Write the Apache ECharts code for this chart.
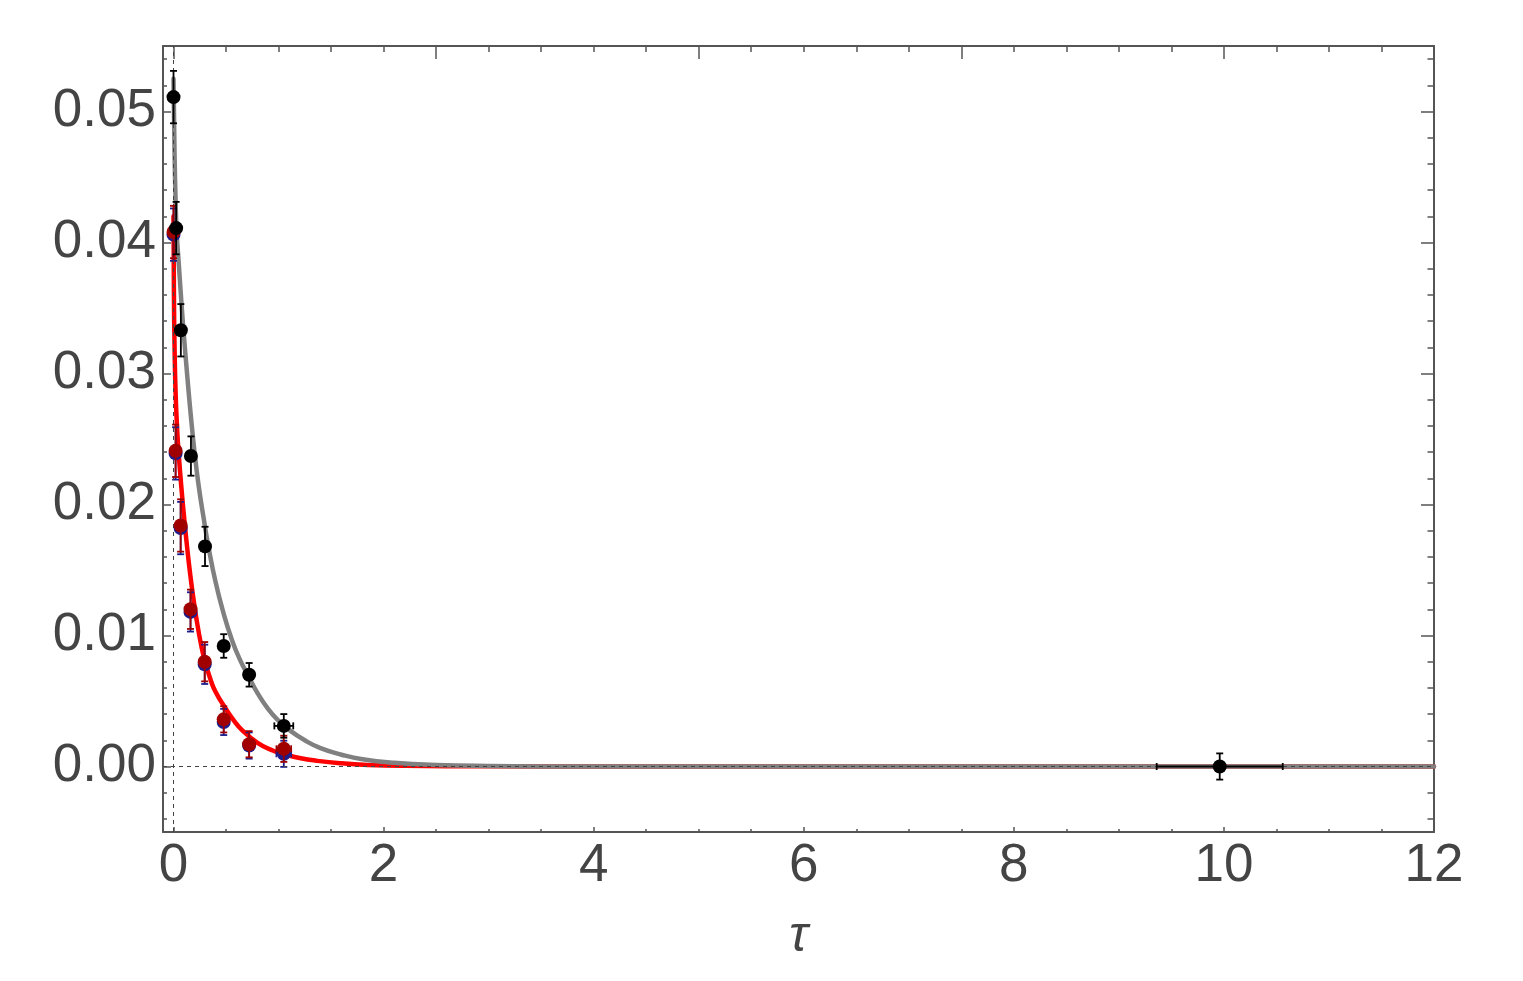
<!DOCTYPE html>
<html>
<head>
<meta charset="utf-8">
<script src="https://cdn.jsdelivr.net/npm/echarts@6/dist/echarts.min.js"></script>
<style>
  html, body { margin: 0; padding: 0; background: #fff; }
  #main { width: 1523px; height: 981px; }
</style>
</head>
<body>
<div id="main"></div>
<script>
// measured points (black / red / blue), x = tau
const blackX = [0.0, 0.025, 0.07, 0.166, 0.30, 0.478, 0.72, 1.05, 9.96]
const blackY = [0.0511, 0.0411, 0.0333, 0.0237, 0.0168, 0.0092, 0.0070, 0.0031, 0.0]
const blackErrY = [0.002, 0.002, 0.002, 0.0015, 0.0015, 0.0009, 0.0009, 0.0009, 0.001]
const blackErrX = [0, 0, 0, 0, 0, 0, 0.045, 0.09, 0.6]

const redX = [0.0, 0.02, 0.068, 0.162, 0.297, 0.478, 0.72, 1.05]
const redY = [0.0408, 0.0241, 0.0184, 0.0120, 0.0080, 0.0036, 0.0017, 0.00135]
const redErrY = [0.002, 0.002, 0.002, 0.0015, 0.0015, 0.001, 0.001, 0.001]
const redErrX = [0, 0, 0, 0, 0, 0, 0.04, 0.07]

const blueX = [0.0, 0.02, 0.068, 0.162, 0.297, 0.478, 0.72, 1.05]
const blueY = [0.0406, 0.0239, 0.0182, 0.0118, 0.0078, 0.0034, 0.0016, 0.00097]
const blueErrY = [0.002, 0.002, 0.002, 0.0015, 0.0015, 0.001, 0.001, 0.001]
const blueErrX = [0, 0, 0, 0, 0, 0, 0.04, 0.07]

// fitted curves
const grayCurveX = [0, 0.01, 0.02, 0.03, 0.05, 0.08, 0.10, 0.13, 0.16, 0.20, 0.24, 0.29, 0.33, 0.40, 0.48, 0.55, 0.63, 0.72, 0.80, 0.90, 1.00, 1.10, 1.25, 1.40, 1.60, 1.80, 2.10, 2.50, 3.00, 4.00, 6.00, 9.00, 12.0]
const grayCurveY = [0.0525, 0.0468, 0.0432, 0.0408, 0.0384, 0.0349, 0.0328, 0.0299, 0.0272, 0.0240, 0.0214, 0.0188, 0.0169, 0.0141, 0.0116, 0.0098, 0.0082, 0.0068, 0.0056, 0.0044, 0.0035, 0.0028, 0.0020, 0.0014, 0.0009, 0.00055, 0.00028, 0.00011, 0.00004, 0, 0, 0, 0]
const redCurveX = [0, 0.004, 0.01, 0.02, 0.035, 0.05, 0.075, 0.10, 0.13, 0.16, 0.19, 0.22, 0.26, 0.30, 0.35, 0.40, 0.49, 0.575, 0.65, 0.80, 0.95, 1.05, 1.20, 1.37, 1.60, 1.85, 2.20, 3.00, 4.00, 8.00, 12.0]
const redCurveY = [0.0420, 0.0362, 0.0320, 0.0285, 0.0257, 0.0238, 0.0213, 0.0191, 0.0167, 0.0146, 0.0128, 0.0112, 0.0094, 0.0080, 0.0067, 0.0057, 0.0045, 0.0035, 0.0028, 0.0018, 0.0012, 0.00095, 0.00065, 0.00043, 0.00024, 0.00012, 0.00005, 0.00001, 0, 0, 0]

// frame ticks
const xMajor = [0, 2, 4, 6, 8, 10, 12]
const xMinor = [0.5, 1, 1.5, 2.5, 3, 3.5, 4.5, 5, 5.5, 6.5, 7, 7.5, 8.5, 9, 9.5, 10.5, 11, 11.5]
const xTopMajor = [0, 2.5, 5, 7.5, 10]
const xTopMinor = [0.5, 1, 1.5, 2, 3, 3.5, 4, 4.5, 5.5, 6, 6.5, 7, 8, 8.5, 9, 9.5, 10.5, 11, 11.5]
const yMajor = [0, 0.01, 0.02, 0.03, 0.04, 0.05]
const yMinor = [-0.004, -0.002, 0.002, 0.004, 0.006, 0.008, 0.012, 0.014, 0.016, 0.018, 0.022, 0.024, 0.026, 0.028, 0.032, 0.034, 0.036, 0.038, 0.042, 0.044, 0.046, 0.048, 0.052, 0.054]

const frameColor = '#555'
const labelFont = { fontFamily: 'Liberation Sans', fontSize: 53, color: '#444' }

const zip = (a, b) => a.map((v, i) => [v, b[i]])
const zip4 = (a, b, c, d) => a.map((v, i) => [v, b[i], c[i], d[i]])

// one axis of the frame: line + ticks at given values
const frameX = (position, ticks, len, withLine, extra) => Object.assign({
	type: 'value', position, min: -0.1, max: 12,
	axisLine: { show: withLine, onZero: false, lineStyle: { color: frameColor, width: 2 } },
	axisTick: { show: true, inside: true, length: len, customValues: ticks, lineStyle: { color: frameColor, width: 1.5 } },
	axisLabel: { show: false },
	splitLine: { show: false }
}, extra)
const frameY = (position, ticks, len, withLine, extra) => Object.assign({
	type: 'value', position, min: -0.005, max: 0.055,
	axisLine: { show: withLine, onZero: false, lineStyle: { color: frameColor, width: 2 } },
	axisTick: { show: true, inside: true, length: len, customValues: ticks, lineStyle: { color: frameColor, width: 1.5 } },
	axisLabel: { show: false },
	splitLine: { show: false }
}, extra)

// error bars drawn through the axis scales
const errRender = (color) => (params, api) => {
	const x = api.value(0), y = api.value(1), dx = api.value(2), dy = api.value(3)
	const top = api.coord([x, y + dy])
	const bot = api.coord([x, y - dy])
	const cap = 3.5
	const style = { stroke: color, lineWidth: 1.8 }
	const children = [
		{ type: 'line', shape: { x1: top[0], y1: top[1], x2: bot[0], y2: bot[1] }, style },
		{ type: 'line', shape: { x1: top[0] - cap, y1: top[1], x2: top[0] + cap, y2: top[1] }, style },
		{ type: 'line', shape: { x1: bot[0] - cap, y1: bot[1], x2: bot[0] + cap, y2: bot[1] }, style }
	]
	if (dx > 0) {
		const l = api.coord([x - dx, y])
		const r = api.coord([x + dx, y])
		children.push(
			{ type: 'line', shape: { x1: l[0], y1: l[1], x2: r[0], y2: r[1] }, style },
			{ type: 'line', shape: { x1: l[0], y1: l[1] - cap, x2: l[0], y2: l[1] + cap }, style },
			{ type: 'line', shape: { x1: r[0], y1: r[1] - cap, x2: r[0], y2: r[1] + cap }, style }
		)
	}
	return { type: 'group', children }
}

const errSeries = (xs, ys, ex, ey, color, z) => ({
	type: 'custom',
	renderItem: errRender(color),
	encode: { x: 0, y: 1 },
	data: zip4(xs, ys, ex, ey),
	z
})
const pointSeries = (xs, ys, color, z) => ({
	type: 'scatter',
	symbolSize: 14,
	itemStyle: { color, opacity: 1 },
	data: zip(xs, ys),
	z
})
const curveSeries = (xs, ys, color, z) => ({
	type: 'line',
	smooth: 0.5,
	showSymbol: false,
	lineStyle: { color, width: 4.5, cap: 'round', join: 'round' },
	data: zip(xs, ys),
	z
})

const chart = echarts.init(document.getElementById('main'))
const option = {
	animation: false,
	backgroundColor: '#fff',
	grid: { left: 163, right: 89, top: 46, bottom: 149 },
	xAxis: [
		frameX('bottom', xMajor, 5, true, {
			name: 'τ', nameLocation: 'middle', nameGap: 80,
			nameTextStyle: { fontFamily: 'Liberation Sans', fontStyle: 'italic', fontSize: 50, color: '#444' },
			axisLabel: Object.assign({ show: true, margin: 8, customValues: xMajor, formatter: (v) => String(Math.round(v)) }, labelFont)
		}),
		frameX('bottom', xMinor, 3, false),
		frameX('top', xTopMajor, 13, true),
		frameX('top', xTopMinor, 6, false)
	],
	yAxis: [
		frameY('left', yMajor, 8, true, {
			axisLabel: Object.assign({ show: true, margin: 7, customValues: yMajor, formatter: (v) => v.toFixed(2) }, labelFont)
		}),
		frameY('left', yMinor, 4, false),
		frameY('right', yMajor, 13, true),
		frameY('right', yMinor, 6.5, false)
	],
	series: [
		{
			type: 'line', data: [], z: 1,
			markLine: {
				silent: true, symbol: 'none', label: { show: false },
				lineStyle: { color: '#444', width: 1, type: [4, 4] },
				data: [{ xAxis: 0 }, { yAxis: 0 }]
			}
		},
		curveSeries(redCurveX, redCurveY, '#ff0000', 2),
		curveSeries(grayCurveX, grayCurveY, '#808080', 3),
		errSeries(blueX, blueY, blueErrX, blueErrY, '#1c1c8c', 4),
		pointSeries(blueX, blueY, '#1c1c8c', 5),
		errSeries(redX, redY, redErrX, redErrY, '#9e0000', 6),
		pointSeries(redX, redY, '#a00000', 7),
		errSeries(blackX, blackY, blackErrX, blackErrY, '#000', 8),
		pointSeries(blackX, blackY, '#000', 9)
	]
}
option && chart.setOption(option)
</script>
</body>
</html>
